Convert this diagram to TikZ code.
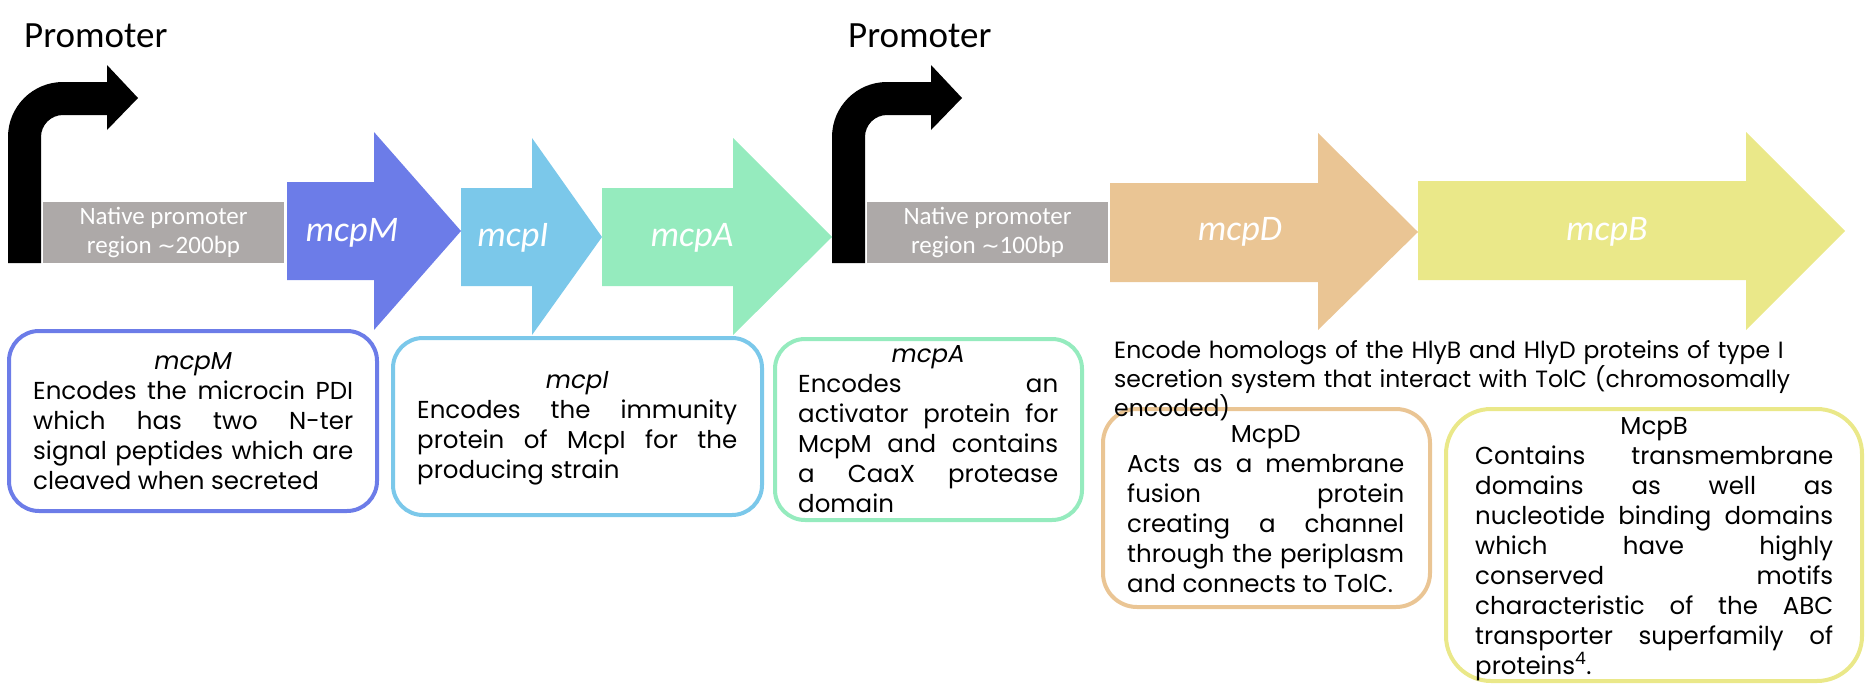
\documentclass[tikz,border=0pt]{standalone}
\usepackage{fontspec}
\setmainfont{Poppins}
\newfontfamily\calibri{Carlito}
\newfontfamily\dejavu{DejaVu Sans}
\definecolor{geneM}{HTML}{6C7CE8}
\definecolor{geneI}{HTML}{7BC8EA}
\definecolor{geneA}{HTML}{95EBBE}
\definecolor{geneD}{HTML}{EAC594}
\definecolor{geneB}{HTML}{EAE889}
\definecolor{promgray}{HTML}{ADA9A8}
\hyphenpenalty=10000
\exhyphenpenalty=10000
\tolerance=9999

\begin{document}
\begin{tikzpicture}[x=1pt,y=-1pt,
  glabel/.style={text=white,inner sep=0pt,font=\calibri\itshape\fontsize{36}{40}\selectfont},
  promtext/.style={anchor=base west,inner sep=0pt,font=\calibri\fontsize{37}{44}\selectfont},
  native/.style={fill=promgray,text=white,align=center,inner sep=0pt,
    minimum width=241pt,minimum height=61pt,font=\calibri\fontsize{25}{29}\selectfont},
  card/.style={line width=4pt,rounded corners=30pt},
  desc/.style={anchor=base west,inner sep=0pt,align=justify,font=\fontsize{24.5}{30}\selectfont}]

\useasboundingbox (0,0) rectangle (1865,696);

% promoters
\foreach \dx/\n/\bp in {0/1/200,824/2/100} {
  \begin{scope}[xshift=\dx pt]
    \fill (8,263) -- (8,137) .. controls (8,106.6) and (32.6,82) .. (63,82)
      -- (107,82) -- (107,65) -- (138,98) -- (107,130) -- (107,115) -- (63,115)
      .. controls (50.9,115) and (41,124.9) .. (41,137) -- (41,263) -- cycle;
    \node[promtext] (prom\n) at (24,47) {Promoter};
    \node[native] (nat\n) at (163.5,232.5) {Native promoter\\region {\dejavu\fontsize{22}{29}\selectfont ∼}\bp bp};
  \end{scope}
}

% genes
\fill[geneM] (287,182) -- (374,182) -- (374,132) -- (461,231) -- (374,330) -- (374,280) -- (287,280) -- cycle;
\fill[geneI] (461,188) -- (532,188) -- (532,138) -- (602,237) -- (532,335) -- (532,286) -- (461,286) -- cycle;
\fill[geneA] (602,188) -- (733,188) -- (733,138) -- (832,237) -- (733,335) -- (733,286) -- (602,286) -- cycle;
\fill[geneD] (1110,183) -- (1318,183) -- (1318,133) -- (1418,232) -- (1318,330) -- (1318,282) -- (1110,282) -- cycle;
\fill[geneB] (1418,181) -- (1746,181) -- (1746,132) -- (1845,231) -- (1746,330) -- (1746,280) -- (1418,280) -- cycle;

\node[glabel] (lblM) at (352,233) {mcpM};
\node[glabel] (lblI) at (513,238) {mcpI};
\node[glabel] (lblA) at (692,238) {mcpA};
\node[glabel] (lblD) at (1240,232) {mcpD};
\node[glabel] (lblB) at (1607,232) {mcpB};

% description boxes
\draw[card,draw=geneM] (9,331) rectangle (377,511);
\draw[card,draw=geneI] (393,338) rectangle (762,515);
\draw[card,draw=geneA] (775,339) rectangle (1082,520);
\draw[card,draw=geneD,rounded corners=34pt] (1103,409) rectangle (1430,607);
\draw[card,draw=geneB,rounded corners=45pt] (1446,409) rectangle (1862,681);

\node[desc,text width=320pt] (txtM) at (33,369)
  {\makebox[\linewidth]{\itshape mcpM}\par
   Encodes the microcin PDI\linebreak which has two N-ter\linebreak
   signal peptides which are\linebreak cleaved when secreted};
\node[desc,text width=320pt] (txtI) at (417,388)
  {\makebox[\linewidth]{\itshape mcpI}\par
   Encodes the immunity\linebreak protein of McpI for the\linebreak producing strain};
\node[desc,text width=260pt] (txtA) at (798,362)
  {\makebox[\linewidth]{\itshape mcpA}\par
   Encodes an\linebreak activator protein for\linebreak McpM and contains\linebreak
   a CaaX protease\linebreak domain};
\node[desc,text width=277pt] (txtD) at (1127,442)
  {\makebox[\linewidth]{McpD}\par
   Acts as a membrane\linebreak fusion protein\linebreak creating a channel\linebreak
   through the periplasm\linebreak and connects to TolC.};
\node[desc,text width=358pt] (txtB) at (1475,434)
  {\makebox[\linewidth]{McpB}\par
   Contains transmembrane\linebreak domains as well as\linebreak
   nucleotide binding domains\linebreak which have highly\linebreak
   conserved motifs\linebreak characteristic of the ABC\linebreak
   transporter superfamily of\linebreak proteins\textsuperscript{4}.};

\node[anchor=base west,inner sep=0pt,text width=720pt,align=left,font=\fontsize{23.5}{27}\selectfont] (txtDB) at (1114,358)
  {Encode homologs of the HlyB and HlyD proteins of type I\\
   secretion system that interact with TolC (chromosomally\\
   encoded)};
\end{tikzpicture}
\end{document}
